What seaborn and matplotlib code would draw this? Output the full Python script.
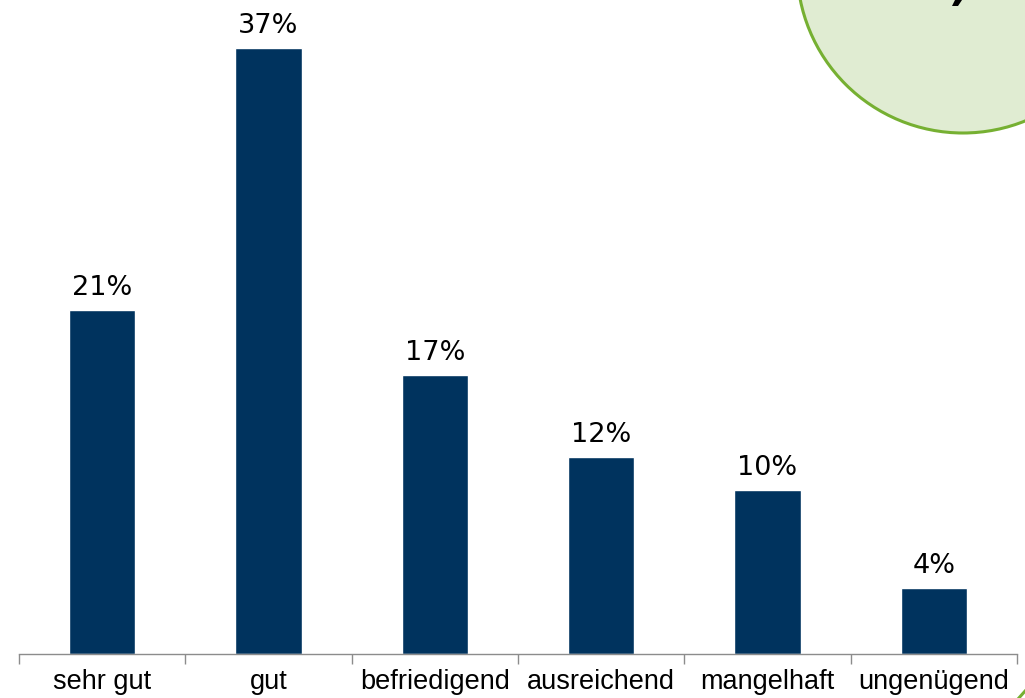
import matplotlib
matplotlib.use("Agg")
import matplotlib.pyplot as plt
import seaborn as sns
import pandas as pd
from matplotlib.patches import Circle, Polygon

# Daten
noten = ['sehr gut', 'gut', 'befriedigend', 'ausreichend', 'mangelhaft', 'ungenügend']
anteile = [21, 37, 17, 12, 10, 4]
beschriftung = ['21%', '37%', '17%', '12%', '10%', '4%']

df = pd.DataFrame({'note': noten, 'anteil': anteile})

sns.set_style('white')
plt.rcParams['font.family'] = ['Liberation Sans', 'DejaVu Sans']

W, H = 1025, 698
fig = plt.figure(figsize=(W / 100, H / 100), dpi=100)

# Deko oben rechts (Kreis in Pixelkoordinaten)
deko = fig.add_axes([0, 0, 1, 1], zorder=0)
deko.set_xlim(0, W)
deko.set_ylim(H, 0)
deko.axis('off')
deko.add_patch(Circle((963, -33), 166, facecolor='#e0ecd2', edgecolor='#76b032',
                      linewidth=2.2))
deko.add_patch(Polygon([[955, 0], [962, 0], [958, 6], [952, 6]], closed=True,
                       facecolor='black', edgecolor='none'))
deko.plot([1018, 1026], [699, 690], color='#76b032', linewidth=2.2)

ax = fig.add_axes([19 / W, 44 / H, 998 / W, 654 / H], zorder=1)
ax.patch.set_alpha(0)
sns.barplot(data=df, x='note', y='anteil', color='#00335e', width=0.4,
            saturation=1, ax=ax)

for i, (v, t) in enumerate(zip(anteile, beschriftung)):
    ax.text(i, v + 0.55, t, ha='center', va='bottom', fontsize=19.5,
            family='DejaVu Sans', color='black')

ax.set_ylim(0, 39.9)
ax.set_xlim(-0.5, len(noten) - 0.5)
ax.set_xlabel('')
ax.set_ylabel('')
ax.set_yticks([])
ax.set_xticks([i - 0.5 for i in range(len(noten) + 1)])
ax.set_xticklabels([])
ax.set_xticks(range(len(noten)), minor=True)
ax.set_xticklabels(noten, minor=True, fontsize=19.5, color='black')
ax.tick_params(axis='x', which='major', length=7, width=1, color='#8c8c8c',
               direction='out', bottom=True)
ax.tick_params(axis='x', which='minor', length=0, pad=11)
for s in ['top', 'right', 'left']:
    ax.spines[s].set_visible(False)
ax.spines['bottom'].set_color('#8c8c8c')
ax.spines['bottom'].set_linewidth(1)

fig.savefig('out.png', dpi=100)
